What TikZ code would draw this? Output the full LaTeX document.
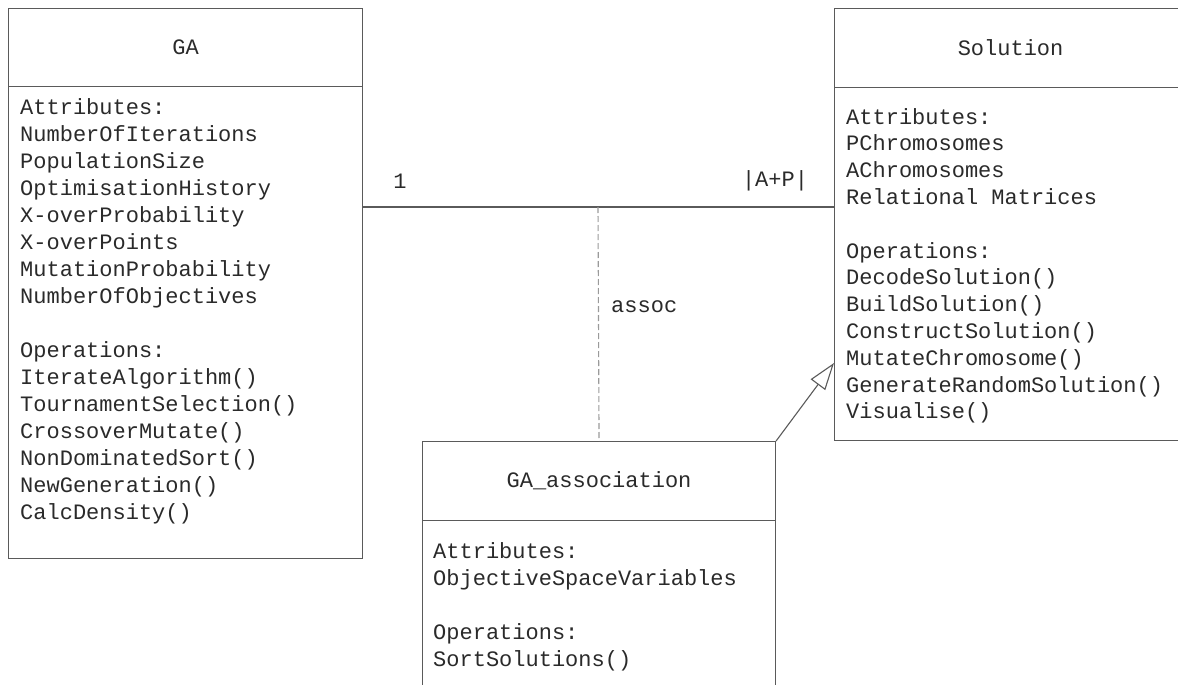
\documentclass[tikz,border=0pt]{standalone}
\usepackage{fontspec}
\setmonofont{Liberation Mono}
\usetikzlibrary{arrows.meta}
\definecolor{linec}{HTML}{5A5A5A}
\definecolor{dashc}{HTML}{9A9A9A}
\definecolor{textc}{HTML}{2A2A2A}
\begin{document}
\begin{tikzpicture}[x=1pt,y=-1pt,
  every node/.style={font=\ttfamily\fontsize{22}{27}\selectfont, text=textc, inner sep=0pt},
  boxn/.style={draw=linec, line width=1.1pt, anchor=north west},
  conn/.style={draw=linec, line width=1.1pt},
  ln/.style={anchor=base west}]
\useasboundingbox (0,0) rectangle (1178,685);

% GA class
\node[boxn, minimum width=354pt, minimum height=78pt] (gahead) at (8,8) {GA};
\node[boxn, minimum width=354pt, minimum height=472pt] (gabody) at (8,86) {};
\foreach \t [count=\i] in {Attributes:,NumberOfIterations,PopulationSize,OptimisationHistory,X-overProbability,X-overPoints,MutationProbability,NumberOfObjectives}
  \node[ln] (gaa\i) at (20,{114+27*(\i-1)}) {\t};
\foreach \t [count=\i] in {Operations:,IterateAlgorithm(),TournamentSelection(),CrossoverMutate(),NonDominatedSort(),NewGeneration(),CalcDensity()}
  \node[ln] (gao\i) at (20,{357+27*(\i-1)}) {\t};

% Solution class
\node[boxn, minimum width=352pt, minimum height=79pt] (solhead) at (834,8) {Solution};
\node[boxn, minimum width=352pt, minimum height=353pt] (solbody) at (834,87) {};
\foreach \t [count=\i] in {Attributes:,PChromosomes,AChromosomes,Relational Matrices}
  \node[ln] (sola\i) at (846,{124+26.8*(\i-1)}) {\t};
\foreach \t [count=\i] in {Operations:,DecodeSolution(),BuildSolution(),ConstructSolution(),MutateChromosome(),GenerateRandomSolution(),Visualise()}
  \node[ln] (solo\i) at (846,{258+26.8*(\i-1)}) {\t};

% GA_association class
\node[boxn, minimum width=353pt, minimum height=79pt] (asshead) at (422,441) {GA\_association};
\node[boxn, minimum width=353pt, minimum height=200pt] (assbody) at (422,520) {};
\foreach \t [count=\i] in {Attributes:,ObjectiveSpaceVariables}
  \node[ln] (assa\i) at (433,{558+27*(\i-1)}) {\t};
\foreach \t [count=\i] in {Operations:,SortSolutions()}
  \node[ln] (asso\i) at (433,{639+27*(\i-1)}) {\t};

% association
\coordinate (mid) at (598,207);
\coordinate (gtip) at (834,363);
\draw[conn] (gabody.east |- mid) -- (solbody.west |- mid);
\draw[draw=dashc, line width=1.1pt, dash pattern=on 6pt off 3pt] (mid) -- (asshead.north);
\node (m1) at (400,181) {1};
\node (m2) at (775,181) {|A+P|};
\node[anchor=west] (lab) at (611,307) {assoc};

% generalization
\draw[conn, -{Triangle[open, length=27pt, width=18pt, line width=1.1pt]}] (asshead.north east) -- (solbody.west |- gtip);
\end{tikzpicture}
\end{document}
